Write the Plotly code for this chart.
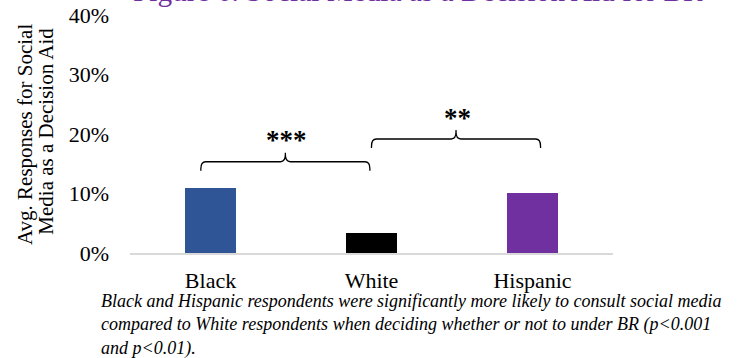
import plotly.graph_objects as go

# Survey results: share of respondents who used social media as a decision aid
groups = ["Black", "White", "Hispanic"]
shares = [0.109, 0.034, 0.101]
bar_colors = ["#2F5597", "#000000", "#7030A0"]

y_ticks = [0.0, 0.1, 0.2, 0.3, 0.4]
y_tick_text = ["0%", "10%", "20%", "30%", "40%"]

# Significance brackets: (left x, right x, bar height, label)
bracket_left = [-0.06, 1.0]
bracket_right = [0.99, 2.05]
bracket_level = [0.1534, 0.1916]
bracket_label = ["***", "**"]

title_text = "Figure 6. Social Media as a Decision Aid for BR"
caption_text = ("<i>Black and Hispanic respondents were significantly more likely to consult social media<br>"
                "compared to White respondents when deciding whether or not to under BR (p&lt;0.001<br>"
                "and p&lt;0.01).</i>")
y_title_lines = ["Avg. Responses for Social", "Media as a Decision Aid"]

SERIF = "Liberation Serif, Times New Roman, serif"

# Plot-area geometry in pixels, used to place free text in paper units
W, H = 743, 358
ML, MR, MT, MB = 130, 130, 15, 105
PW, PH = W - ML - MR, H - MT - MB


def px_x(px):
    return (px - ML) / PW


def px_y(py):
    return (H - MB - py) / PH


fig = go.Figure()
fig.add_trace(go.Bar(
    x=list(range(len(groups))),
    y=shares,
    marker=dict(color=bar_colors, line=dict(width=0)),
    width=0.317,
    hoverinfo="skip",
))

# Curly brackets drawn above the compared bars
leg = 0.015
r = 0.012
for xl, xr, lvl, lab in zip(bracket_left, bracket_right, bracket_level, bracket_label):
    xm = (xl + xr) / 2
    rx = 0.03
    path = (
        f"M {xl},{lvl - leg} L {xl},{lvl - r} Q {xl},{lvl} {xl + rx},{lvl} "
        f"L {xm - rx},{lvl} Q {xm},{lvl} {xm},{lvl + r} L {xm},{lvl + leg} "
        f"M {xm},{lvl + r} Q {xm},{lvl} {xm + rx},{lvl} "
        f"L {xr - rx},{lvl} Q {xr},{lvl} {xr},{lvl - r} L {xr},{lvl - leg}"
    )
    fig.add_shape(type="path", path=path, xref="x", yref="y",
                  line=dict(color="#000000", width=1.3))
    fig.add_annotation(x=xm + 0.01, y=lvl + 0.036, xref="x", yref="y",
                       text=f"<b>{lab}</b>",
                       showarrow=False, font=dict(family=SERIF, size=27, color="#000000"),
                       xanchor="center", yanchor="middle")

# Title (partly above the visible page)
fig.add_annotation(x=px_x(418), y=px_y(9), xref="paper", yref="paper", text=title_text,
                   showarrow=False, font=dict(family=SERIF, size=29.3, color="#7030A0"),
                   xanchor="center", yanchor="bottom")

# Two-line rotated axis title
for xc, yc, line in zip([25, 45.7], [135, 131], y_title_lines):
    fig.add_annotation(x=px_x(xc), y=px_y(yc), xref="paper", yref="paper", text=line,
                       showarrow=False, textangle=-90,
                       font=dict(family=SERIF, size=21, color="#000000"),
                       xanchor="center", yanchor="middle")

# Caption beneath the chart
fig.add_annotation(x=px_x(99), y=px_y(289), xref="paper", yref="paper", text=caption_text,
                   showarrow=False, align="left",
                   font=dict(family=SERIF, size=18, color="#000000"),
                   xanchor="left", yanchor="top")

fig.update_xaxes(
    range=[-0.5, 2.5],
    tickvals=list(range(len(groups))),
    ticktext=groups,
    showline=True, linecolor="#D9D9D9", linewidth=1.5,
    showgrid=False, zeroline=False, ticks="",
    tickfont=dict(family=SERIF, size=22, color="#000000"),
    ticklabelstandoff=7,
)
fig.update_yaxes(
    range=[0, 0.4],
    tickvals=y_ticks,
    ticktext=y_tick_text,
    showline=False, showgrid=False, zeroline=False, ticks="",
    tickfont=dict(family=SERIF, size=22, color="#000000"),
    ticklabelstandoff=20,
)

fig.update_layout(
    width=W, height=H,
    margin=dict(l=ML, r=MR, t=MT, b=MB, autoexpand=False),
    paper_bgcolor="#FFFFFF", plot_bgcolor="#FFFFFF",
    showlegend=False, bargap=0,
)

fig.write_html("out.html")
